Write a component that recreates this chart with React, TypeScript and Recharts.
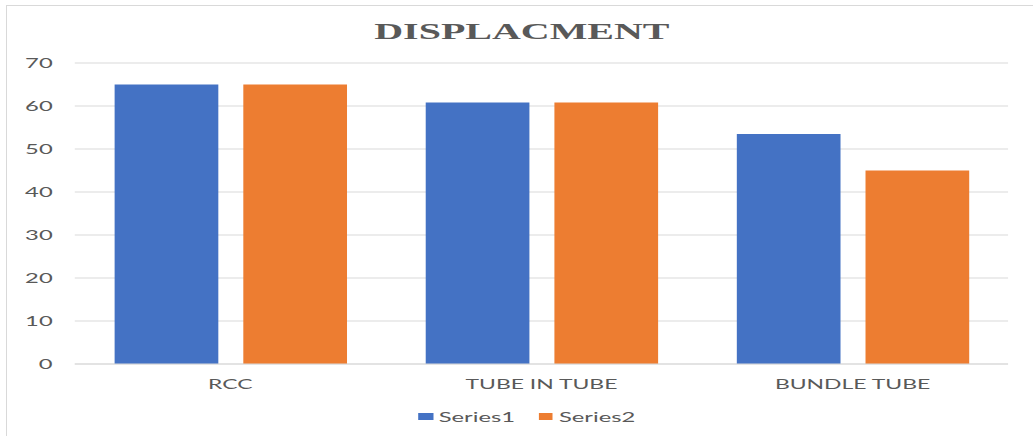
import React from 'react';
import { BarChart, Bar, XAxis, YAxis, CartesianGrid, Legend } from 'recharts';

const categories = ['RCC', 'TUBE IN TUBE', 'BUNDLE TUBE'];
const series1 = [65, 60.8, 53.5];
const series2 = [65, 60.8, 45];
const yTicks = [0, 10, 20, 30, 40, 50, 60, 70];
const seriesNames = ['Series1', 'Series2'];
const title = 'DISPLACMENT';

const data = categories.map((c, i) => ({ name: c, s1: series1[i], s2: series2[i] }));

const S = 1.7;
const W = 608;
const H = 436;
const GRAY = '#595959';
const LINE = '#d9d9d9';

const renderLegend = (props: any) => {
  const payload = props.payload || [];
  return (
    <div
      style={{
        display: 'flex',
        justifyContent: 'center',
        alignItems: 'center',
        height: 20,
        paddingLeft: 12,
        fontFamily: 'Lato, sans-serif',
        fontSize: 14,
        color: GRAY,
      }}
    >
      {payload.map((e: any, i: number) => (
        <div
          key={i}
          style={{ display: 'flex', alignItems: 'center', marginRight: i < payload.length - 1 ? 14 : 0 }}
        >
          <span style={{ display: 'inline-block', width: 8.3, height: 7, background: e.color, marginRight: 3.5 }} />
          <span>{e.value}</span>
        </div>
      ))}
    </div>
  );
};

export default function App() {
  return (
    <div style={{ position: 'absolute', left: 0, top: 0, width: 1033, height: 436, overflow: 'hidden', background: '#fff' }}>
      <div
        style={{
          position: 'absolute',
          left: 6,
          top: 5,
          width: 1100,
          height: 500,
          borderLeft: `1px solid ${LINE}`,
          borderTop: `1px solid ${LINE}`,
        }}
      />
      <div
        style={{
          position: 'absolute',
          left: 0,
          top: 0,
          width: W,
          height: H,
          transform: `scaleX(${S})`,
          transformOrigin: '0 0',
        }}
      >
        <BarChart
          width={W}
          height={H}
          data={data}
          margin={{ top: 63, right: 15, bottom: 42, left: 0 }}
          barCategoryGap="12.8%"
          barGap={14.7}
        >
          <CartesianGrid vertical={false} stroke={LINE} strokeWidth={1} />
          <XAxis
            dataKey="name"
            height={30}
            axisLine={{ stroke: LINE }}
            tickLine={false}
            tickSize={0}
            tickMargin={15}
            tick={{ fill: GRAY, fontSize: 13.5, fontFamily: 'Lato, sans-serif' }}
            interval={0}
          />
          <YAxis
            width={44}
            domain={[0, 70]}
            ticks={yTicks}
            axisLine={false}
            tickLine={false}
            tickSize={0}
            tickMargin={13}
            tick={{ fill: GRAY, fontSize: 14, fontFamily: 'Lato, sans-serif' }}
          />
          <Legend
            layout="horizontal"
            verticalAlign="middle"
            align="center"
            content={renderLegend}
            wrapperStyle={{ left: 0, top: 406, width: W, height: 20 }}
          />
          <Bar dataKey="s1" name={seriesNames[0]} fill="#4472C4" isAnimationActive={false} />
          <Bar dataKey="s2" name={seriesNames[1]} fill="#ED7D31" isAnimationActive={false} />
        </BarChart>
        <div
          style={{
            position: 'absolute',
            left: 0,
            top: 20.3,
            width: W,
            paddingLeft: 6,
            boxSizing: 'border-box',
            textAlign: 'center',
            fontFamily: '"Liberation Serif", "Times New Roman", serif',
            fontWeight: 'bold',
            fontSize: 23.5,
            lineHeight: '23.5px',
            color: GRAY,
            pointerEvents: 'none',
          }}
        >
          {title}
        </div>
      </div>
    </div>
  );
}
